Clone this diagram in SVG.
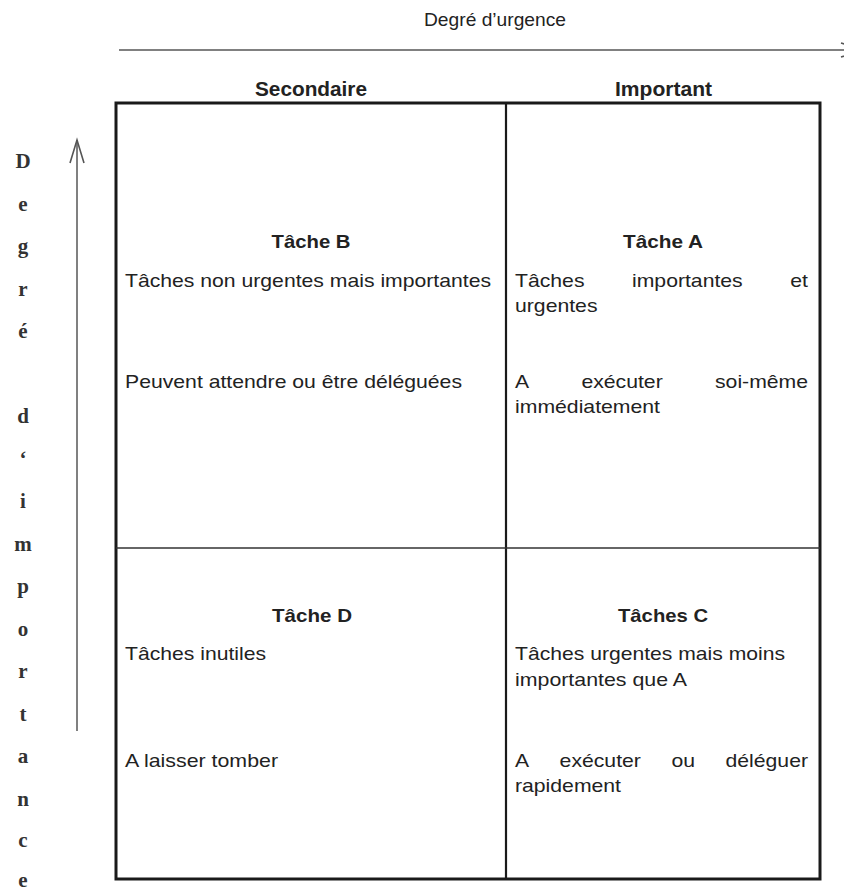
<svg xmlns="http://www.w3.org/2000/svg" width="844" height="893" viewBox="0 0 844 893">
<defs>
<style>
text{font-family:"Liberation Sans",Arial,sans-serif;fill:#222;}
.hd{font-size:20px;font-weight:bold;text-anchor:middle;}
.ti{font-size:19px;font-weight:bold;text-anchor:middle;}
.tx{font-size:19px;}
.ax{font-size:19px;text-anchor:middle;}
.vl{font-family:"Liberation Serif","Times New Roman",serif;font-size:21px;font-weight:bold;text-anchor:middle;fill:#333;}
.axis{stroke:#808080;stroke-width:2;fill:none;}
</style>
<marker id="open" markerUnits="userSpaceOnUse" markerWidth="30" markerHeight="20" viewBox="-25 -10 30 20" refX="0" refY="0" orient="auto">
<path d="M-23,-7 L0,0 L-23,7" fill="none" stroke="#555" stroke-width="1.6"/>
</marker>
</defs>
<rect width="844" height="893" fill="#fff"/>

<g id="connectors">
<line class="axis" x1="119" y1="50" x2="864" y2="50" marker-end="url(#open)"/>
<line class="axis" x1="77" y1="731" x2="77" y2="140" marker-end="url(#open)"/>
</g>

<g id="axis-x-label">
<text class="ax" x="495" y="26" textLength="142" lengthAdjust="spacingAndGlyphs">Degré d’urgence</text>
</g>

<g id="axis-y-label">
<text class="vl" x="23" y="168">D</text>
<text class="vl" x="23" y="210.5">e</text>
<text class="vl" x="23" y="253">g</text>
<text class="vl" x="23" y="295.5">r</text>
<text class="vl" x="23" y="338">é</text>
<text class="vl" x="23" y="423">d</text>
<text class="vl" x="23" y="465.5">‘</text>
<text class="vl" x="23" y="508">i</text>
<text class="vl" x="23" y="550.5">m</text>
<text class="vl" x="23" y="593">p</text>
<text class="vl" x="23" y="635.5">o</text>
<text class="vl" x="23" y="678">r</text>
<text class="vl" x="23" y="720.5">t</text>
<text class="vl" x="23" y="763">a</text>
<text class="vl" x="23" y="805.5">n</text>
<text class="vl" x="23" y="847">c</text>
<text class="vl" x="23" y="887">e</text>
</g>

<g id="headers">
<text class="hd" x="311" y="96" textLength="112" lengthAdjust="spacingAndGlyphs">Secondaire</text>
<text class="hd" x="663.5" y="96" textLength="97" lengthAdjust="spacingAndGlyphs">Important</text>
</g>

<g id="grid">
<rect x="116" y="103" width="704" height="776" fill="none" stroke="#1a1a1a" stroke-width="3"/>
<line x1="506" y1="103" x2="506" y2="879" stroke="#1a1a1a" stroke-width="2.2"/>
<line x1="116" y1="548" x2="820" y2="548" stroke="#333" stroke-width="1.4"/>
</g>

<g id="tache-b">
<text class="ti" x="311" y="248" textLength="79" lengthAdjust="spacingAndGlyphs">Tâche B</text>
<text class="tx" x="125" y="287" textLength="366" lengthAdjust="spacingAndGlyphs">Tâches non urgentes mais importantes</text>
<text class="tx" x="125" y="388" textLength="337" lengthAdjust="spacingAndGlyphs">Peuvent attendre ou être déléguées</text>
</g>

<g id="tache-a">
<text class="ti" x="663" y="248" textLength="80" lengthAdjust="spacingAndGlyphs">Tâche A</text>
<text class="tx" x="515" y="287" textLength="69.5" lengthAdjust="spacingAndGlyphs">Tâches</text>
<text class="tx" x="632" y="287" textLength="110.7" lengthAdjust="spacingAndGlyphs">importantes</text>
<text class="tx" x="790.3" y="287" textLength="17.7" lengthAdjust="spacingAndGlyphs">et</text>
<text class="tx" x="515" y="312" textLength="82.5" lengthAdjust="spacingAndGlyphs">urgentes</text>
<text class="tx" x="515" y="388" textLength="14.1" lengthAdjust="spacingAndGlyphs">A</text>
<text class="tx" x="581.4" y="388" textLength="81.3" lengthAdjust="spacingAndGlyphs">exécuter</text>
<text class="tx" x="715" y="388" textLength="93" lengthAdjust="spacingAndGlyphs">soi-même</text>
<text class="tx" x="515" y="413" textLength="145" lengthAdjust="spacingAndGlyphs">immédiatement</text>
</g>

<g id="tache-d">
<text class="ti" x="312" y="622" textLength="80" lengthAdjust="spacingAndGlyphs">Tâche D</text>
<text class="tx" x="125" y="660" textLength="141" lengthAdjust="spacingAndGlyphs">Tâches inutiles</text>
<text class="tx" x="125" y="767" textLength="153" lengthAdjust="spacingAndGlyphs">A laisser tomber</text>
</g>

<g id="taches-c">
<text class="ti" x="663" y="622" textLength="90" lengthAdjust="spacingAndGlyphs">Tâches C</text>
<text class="tx" x="515" y="660" textLength="270" lengthAdjust="spacingAndGlyphs">Tâches urgentes mais moins</text>
<text class="tx" x="515" y="686" textLength="172" lengthAdjust="spacingAndGlyphs">importantes que A</text>
<text class="tx" x="515" y="767" textLength="14.1" lengthAdjust="spacingAndGlyphs">A</text>
<text class="tx" x="559.6" y="767" textLength="81.3" lengthAdjust="spacingAndGlyphs">exécuter</text>
<text class="tx" x="671.4" y="767" textLength="23.6" lengthAdjust="spacingAndGlyphs">ou</text>
<text class="tx" x="725.5" y="767" textLength="82.5" lengthAdjust="spacingAndGlyphs">déléguer</text>
<text class="tx" x="515" y="792" textLength="106" lengthAdjust="spacingAndGlyphs">rapidement</text>
</g>
</svg>
